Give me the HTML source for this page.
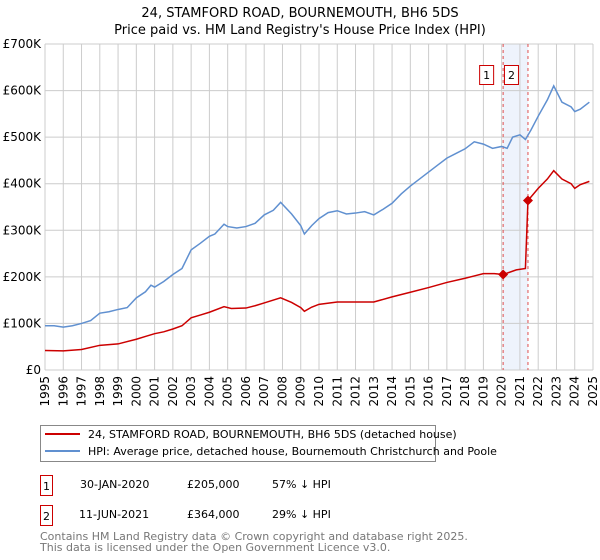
<!DOCTYPE html>
<html><head><meta charset="utf-8"><style>
body{margin:0;background:#fff;font-family:"Liberation Sans","DejaVu Sans",sans-serif;}
svg{display:block}
</style></head><body>
<svg id="c" width="600" height="560" xmlns="http://www.w3.org/2000/svg" font-family="DejaVu Sans, Liberation Sans, sans-serif">
<text x="300" y="17" text-anchor="middle" font-size="13">24, STAMFORD ROAD, BOURNEMOUTH, BH6 5DS</text>
<text x="300" y="34" text-anchor="middle" font-size="13">Price paid vs. HM Land Registry's House Price Index (HPI)</text>
<g id="grid"></g><g id="series"></g><g id="axes"></g>
<g>
<rect x="40.5" y="425.5" width="395" height="36" fill="#fff" stroke="#888"/>
<line x1="45" y1="434" x2="80" y2="434" stroke="#cc0000" stroke-width="2"/>
<text x="88" y="438" font-size="11">24, STAMFORD ROAD, BOURNEMOUTH, BH6 5DS (detached house)</text>
<line x1="45" y1="451" x2="80" y2="451" stroke="#6090d0" stroke-width="2"/>
<text x="88" y="455" font-size="11">HPI: Average price, detached house, Bournemouth Christchurch and Poole</text>
</g>
<g font-size="11">
<rect x="40.5" y="475.5" width="12" height="20" fill="#fff" stroke="#cc0000"/><text x="46.5" y="490" text-anchor="middle">1</text>
<text x="80" y="488">30-JAN-2020</text><text x="187" y="488">£205,000</text><text x="272" y="488">57% ↓ HPI</text>
<rect x="40.5" y="505.5" width="12" height="20" fill="#fff" stroke="#cc0000"/><text x="46.5" y="520" text-anchor="middle">2</text>
<text x="79" y="518">11-JUN-2021</text><text x="187" y="518">£364,000</text><text x="272" y="518">29% ↓ HPI</text>
</g>
<text x="40" y="540" font-size="11" fill="#777">Contains HM Land Registry data © Crown copyright and database right 2025.</text>
<text x="40" y="551" font-size="11" fill="#777">This data is licensed under the Open Government Licence v3.0.</text>
</svg>
<script>
const yTicks=[0,100,200,300,400,500,600,700];
const yTickLabels=["£0","£100K","£200K","£300K","£400K","£500K","£600K","£700K"];
const xYears=[1995,1996,1997,1998,1999,2000,2001,2002,2003,2004,2005,2006,2007,2008,2009,2010,2011,2012,2013,2014,2015,2016,2017,2018,2019,2020,2021,2022,2023,2024,2025];
const hpiT=[1995,1995.5,1996,1996.5,1997,1997.5,1998,1998.5,1999,1999.5,2000,2000.5,2000.8,2001,2001.5,2002,2002.5,2003,2003.5,2004,2004.3,2004.8,2005,2005.5,2006,2006.5,2007,2007.5,2007.9,2008.5,2009,2009.2,2009.6,2010,2010.5,2011,2011.5,2012,2012.5,2013,2013.5,2014,2014.5,2015,2015.5,2016,2016.5,2017,2017.5,2018,2018.5,2019,2019.5,2020,2020.3,2020.6,2021,2021.3,2021.6,2022,2022.5,2022.85,2023.3,2023.8,2024,2024.3,2024.8];
const hpiV=[95,95,92,95,100,106,122,125,130,134,155,168,182,178,190,205,218,258,272,287,292,313,308,305,308,315,333,343,360,335,310,292,310,325,338,342,335,337,340,333,345,358,378,395,410,425,440,455,465,475,490,485,476,480,476,500,505,495,515,545,580,610,575,565,555,560,575];
const ppT=[1995,1996,1997,1998,1999,2000,2000.5,2001,2001.5,2002,2002.5,2003,2003.5,2004,2004.8,2005.2,2006,2006.5,2007,2007.9,2008.5,2009,2009.2,2009.6,2010,2011,2012,2013,2014,2015,2016,2017,2018,2018.5,2019,2019.6,2020.08,2020.8,2021.3,2021.44,2022,2022.5,2022.85,2023.3,2023.8,2024,2024.3,2024.8];
const ppV=[42,41,44,53,56,66,72,78,82,88,95,112,118,124,136,132,133,138,144,155,145,134,126,135,141,146,146,146,157,167,177,188,197,202,207,207,205,215,218,364,390,410,428,410,400,390,398,405];
const saleT=[2020.08,2021.44];
const saleV=[205,364];
const saleLabels=["1","2"];
const NS="http://www.w3.org/2000/svg";
const X0=45,X1=593,Y0=370,Y1=44;
const xs=t=>X0+(t-1995)/30*(X1-X0);
const ys=v=>Y0-v/700*(Y0-Y1);
function mk(p,tag,a){const e=document.createElementNS(NS,tag);for(const k in a)e.setAttribute(k,a[k]);p.appendChild(e);return e;}
const grid=document.getElementById('grid'),ser=document.getElementById('series'),ax=document.getElementById('axes');
const sh=mk(grid,'rect',{x:xs(saleT[0]),y:Y1,width:xs(saleT[1])-xs(saleT[0]),height:Y0-Y1,fill:'#eef3fc'});


yTicks.forEach((v,i)=>{
const l=mk(grid,'line',{x1:X0,x2:X1,y1:ys(v),y2:ys(v),stroke:'#ccc'});


const t=mk(ax,'text',{x:X0-4,y:ys(v)+4,'text-anchor':'end','font-size':'12'});


t.textContent=yTickLabels[i];
});
xYears.forEach(y=>{
const l=mk(grid,'line',{x1:xs(y),x2:xs(y),y1:Y1,y2:Y0,stroke:'#ccc'});


const t=mk(ax,'text',{x:0,y:0,'font-size':'12',transform:`translate(${xs(y)+4},${Y0+6}) rotate(-90)`,'text-anchor':'end'});


t.textContent=y;
});
saleT.forEach((t,i)=>{
const l=mk(grid,'line',{x1:xs(t),x2:xs(t),y1:Y1,y2:Y0,stroke:'#e05050','stroke-dasharray':'3,3'});


const bx=xs(t)-10-14;
const r=mk(ax,'rect',{x:bx+0.5,y:65.5,width:14,height:19,fill:'#fff',stroke:'#cc0000'});


const tx=mk(ax,'text',{x:bx+7.5,y:79,'text-anchor':'middle','font-size':'11'});


tx.textContent=saleLabels[i];
});
const hp=mk(ser,'polyline',{points:hpiT.map((t,i)=>xs(t)+','+ys(hpiV[i])).join(' '),fill:'none',stroke:'#6090d0','stroke-width':'1.5'});


const pp=mk(ser,'polyline',{points:ppT.map((t,i)=>xs(t)+','+ys(ppV[i])).join(' '),fill:'none',stroke:'#cc0000','stroke-width':'1.5'});


saleT.forEach((t,i)=>{
const cx=xs(t),cy=ys(saleV[i]);
const d=mk(ser,'polygon',{points:`${cx},${cy-5} ${cx+5},${cy} ${cx},${cy+5} ${cx-5},${cy}`,fill:'#cc0000'});


});
</script>
</body></html>
